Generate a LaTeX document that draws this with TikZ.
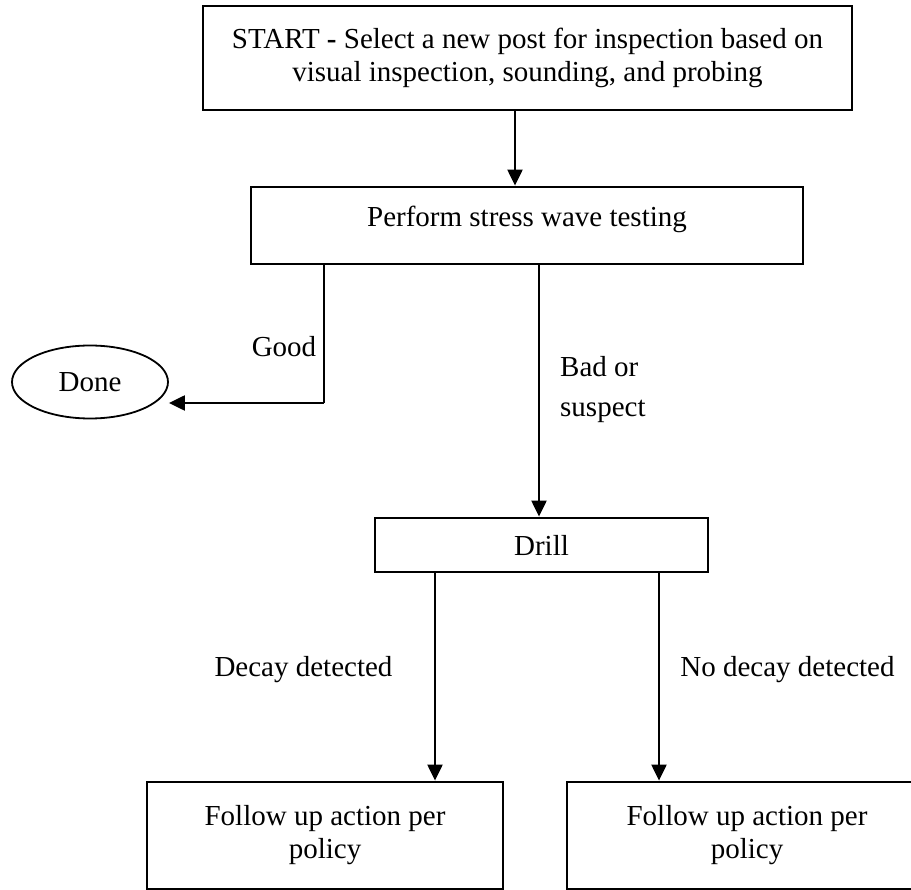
\documentclass[tikz,border=0pt]{standalone}
\usepackage{fontspec}
\setmainfont{Liberation Serif}
\usetikzlibrary{arrows.meta,shapes.geometric}
\begin{document}
\begin{tikzpicture}[x=1pt,y=-1pt,
  every node/.style={font=\fontsize{29}{33}\selectfont, inner sep=0pt},
  boxnode/.style={draw, line width=2.8pt, rectangle, align=center},
  lbl/.style={align=center},
  arr/.style={line width=2.2pt, -{Triangle[length=16pt,width=15pt]}},
  thinline/.style={line width=1.3pt}]
\useasboundingbox (0,0) rectangle (911,890);
\clip (0,0) rectangle (911,890);

\node[boxnode, minimum width=649pt, minimum height=104pt] (start) at (527.5,58)
  {START \textbf{-} Select a new post for inspection based on\\visual inspection, sounding, and probing};
\node[boxnode, minimum width=552pt, minimum height=77pt, text height=15pt, text depth=12pt] (stress) at (527,225.5)
  {Perform stress wave testing};
\node[draw, ellipse, line width=1.8pt, minimum width=156pt, minimum height=73pt] (done) at (90,382) {Done};
\node[boxnode, minimum width=333pt, minimum height=54pt] (drill) at (541.5,545) {Drill};
\node[boxnode, minimum width=356pt, minimum height=107pt] (fl) at (325,835.5)
  {Follow up action per\\policy};
\node[boxnode, minimum width=360pt, minimum height=107pt] (fr) at (747,835.5)
  {Follow up action per\\policy};

\coordinate (topx) at (515,0);
\coordinate (gcorner) at (324,403);
\coordinate (badx) at (539,0);
\coordinate (lx) at (435,0);
\coordinate (rx) at (659,0);

\draw[arr] (start.south -| topx) -- (stress.north -| topx);
\draw[thinline] (stress.south -| gcorner) -- (gcorner);
\draw[arr] (gcorner) -- (gcorner -| done.east);
\draw[arr] (stress.south -| badx) -- (drill.north -| badx);
\draw[arr] (drill.south -| lx) -- (fl.north -| lx);
\draw[arr] (drill.south -| rx) -- (fr.north -| rx);

\node[lbl] (good) at (284,347) {Good};
\node[align=left, anchor=west, font=\fontsize{29}{40}\selectfont] (bad) at (560,390) {Bad or\\suspect};
\node[lbl] (decay) at (303.5,670) {Decay detected};
\node[lbl] (nodecay) at (787.5,670) {No decay detected};
\end{tikzpicture}
\end{document}
